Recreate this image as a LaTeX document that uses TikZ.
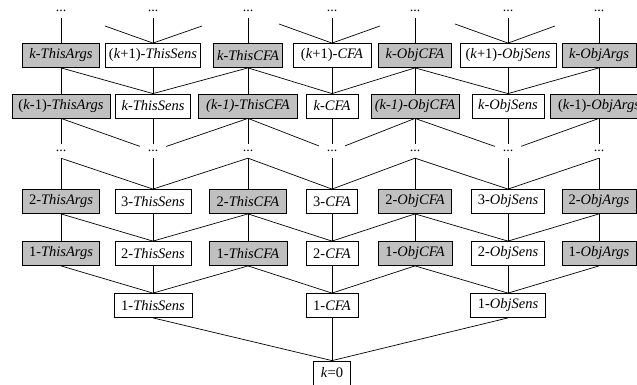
\documentclass[tikz,border=0pt]{standalone}
\usepackage{fontspec}
\setmainfont{Liberation Serif}
\definecolor{boxgray}{RGB}{192,192,192}
\begin{document}
\begin{tikzpicture}[x=1pt,y=-1pt,
  box/.style={draw=black, line width=0.8pt, minimum height=24pt, inner sep=2pt,
    font=\fontsize{14.5}{16}\selectfont, fill=white},
  gbox/.style={box, fill=boxgray},
  dts/.style={inner sep=0pt, minimum width=26pt, minimum height=14pt,
    font=\fontsize{14}{16}\selectfont},
  edge/.style={line width=0.7pt}]
\clip (0,0) rectangle (637,385);
% dots rows
\foreach \i/\x in {1/61,2/153,3/248,4/332,5/415,6/508,7/599}{
  \node[dts] (t\i) at (\x,11) {...};
  \node[dts] (m\i) at (\x,151) {...};
}
% row A
\node[gbox,minimum width=77pt] (a1) at (61,55.5) {\textit{k-ThisArgs}};
\node[box, minimum width=95pt] (a2) at (153,55.5) {(\textit{k}+1)-\textit{ThisSens}};
\node[gbox,minimum width=69pt] (a3) at (248,55.5) {\textit{k-ThisCFA}};
\node[box, minimum width=78pt] (a4) at (332,55.5) {(\textit{k}+1)-\textit{CFA}};
\node[gbox,minimum width=73pt] (a5) at (415,55.5) {\textit{k-ObjCFA}};
\node[box, minimum width=96pt] (a6) at (508,55.5) {(\textit{k}+1)-\textit{ObjSens}};
\node[gbox,minimum width=74pt] (a7) at (599,55.5) {\textit{k-ObjArgs}};
% row B
\node[gbox,minimum width=98pt] (b1) at (61,106) {(\textit{k}-1)-\textit{ThisArgs}};
\node[box, minimum width=75pt] (b2) at (153,106) {\textit{k-ThisSens}};
\node[gbox,minimum width=99pt] (b3) at (248,106) {\textit{(k-1)-ThisCFA}};
\node[box, minimum width=52pt] (b4) at (332,106) {\textit{k-CFA}};
\node[gbox,minimum width=88pt] (b5) at (415,106) {\textit{(k-1)-ObjCFA}};
\node[box, minimum width=72pt] (b6) at (508,106) {\textit{k-ObjSens}};
\node[gbox,minimum width=98pt] (b7) at (599,106) {(\textit{k}-1)-\textit{ObjArgs}};
% row C
\node[gbox,minimum width=77pt] (c1) at (61,201.5) {2-\textit{ThisArgs}};
\node[box, minimum width=76pt] (c2) at (153,201.5) {3-\textit{ThisSens}};
\node[gbox,minimum width=77pt] (c3) at (248,201.5) {2-\textit{ThisCFA}};
\node[box, minimum width=51pt] (c4) at (332,201.5) {3-\textit{CFA}};
\node[gbox,minimum width=73pt] (c5) at (415,201.5) {2-\textit{ObjCFA}};
\node[box, minimum width=73pt] (c6) at (508,201.5) {3-\textit{ObjSens}};
\node[gbox,minimum width=74pt] (c7) at (599,201.5) {2-\textit{ObjArgs}};
% row D
\node[gbox,minimum width=77pt] (d1) at (61,253.5) {1-\textit{ThisArgs}};
\node[box, minimum width=76pt] (d2) at (153,253.5) {2-\textit{ThisSens}};
\node[gbox,minimum width=78pt] (d3) at (248,253.5) {1-\textit{ThisCFA}};
\node[box, minimum width=52pt] (d4) at (332,253.5) {2-\textit{CFA}};
\node[gbox,minimum width=74pt] (d5) at (415,253.5) {1-\textit{ObjCFA}};
\node[box, minimum width=73pt] (d6) at (508,253.5) {2-\textit{ObjSens}};
\node[gbox,minimum width=74pt] (d7) at (599,253.5) {1-\textit{ObjArgs}};
% row E
\node[box, minimum width=78pt] (e2) at (153,305.5) {1-\textit{ThisSens}};
\node[box, minimum width=52pt] (e4) at (332,305.5) {1-\textit{CFA}};
\node[box, minimum width=75pt] (e6) at (508,305.5) {1-\textit{ObjSens}};
% root
\node[box, minimum width=37pt] (k0) at (332,373) {\textit{k}=0};
% partial line ends at top
\coordinate (p2l) at (105,26);
\coordinate (p2r) at (202,26);
\coordinate (p4l) at (279,24);
\coordinate (p4r) at (380,26);
\coordinate (p6l) at (455,24);
\coordinate (p6r) at (555,26);
\begin{scope}[edge]
\foreach \i in {1,...,7}{
  \draw (t\i.south) -- (a\i.north);
  \draw (a\i.south) -- (b\i.north);
  \draw (b\i.south) -- (m\i);
  \draw (m\i.south) -- (c\i.north);
  \draw (c\i.south) -- (d\i.north);
}
\foreach \p/\q in {p2l/a2,p2r/a2,p4l/a4,p4r/a4,p6l/a6,p6r/a6}{
  \draw (\p) -- (\q.north);
}
\foreach \g/\w in {1/2,3/2,3/4,5/4,5/6,7/6}{
  \draw (a\g.south) -- (b\w.north);
  \draw (b\g.south) -- (m\w);
  \draw (m\g.south) -- (c\w.north);
  \draw (c\g.south) -- (d\w.north);
  \draw (d\g.south) -- (e\w.north);
}
\foreach \w in {2,4,6}{
  \draw (d\w.south) -- (e\w.north);
  \draw (e\w.south) -- (k0.north);
}
\end{scope}
\end{tikzpicture}
\end{document}
